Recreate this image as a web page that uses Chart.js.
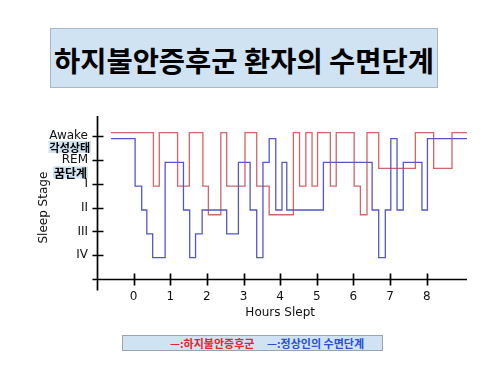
<!DOCTYPE html>
<html><head><meta charset="utf-8">
<script src="https://cdn.jsdelivr.net/npm/chart.js@4"></script>
<style>
html,body{margin:0;padding:0;background:#fff;}
#wrap{position:relative;width:500px;height:374px;overflow:hidden;}
canvas{position:absolute;left:0;top:0;}
#title{position:absolute;left:50px;top:28px;width:386px;height:58px;background:#d0e3f3;border:1px solid #aab6c2;font:bold 28.5px "Noto Sans CJK KR";text-align:center;line-height:62px;color:#000;white-space:nowrap;overflow:visible;}
#legend{position:absolute;left:122px;top:335px;width:259px;height:14px;background:#d0e3f3;border:1px solid #98a4ae;}
.lg{position:absolute;top:335px;font:bold 11px "Noto Sans CJK KR";line-height:16px;white-space:nowrap;}
</style></head><body>
<div id="wrap">
<canvas id="c" width="500" height="374"></canvas>
<div id="title">하지불안증후군 환자의 수면단계</div>
<div id="legend"></div>
<span class="lg" style="left:170px;color:#e2262b">—:하지불안증후군</span>
<span class="lg" style="left:267px;color:#2a4fd6">—:정상인의 수면단계</span>
</div>
<script>
// Normal sleeper (blue): hour at which each stage begins, and the stage value
const hoursNormal = [-0.62,0.04,0.22,0.36,0.52,0.86,1.36,1.53,1.69,1.87,2.54,2.86,3.18,3.36,3.53,3.70,3.88,4.05,4.18,5.18,6.51,6.69,6.87,7.02,7.19,7.36,7.87,8.02,9.10];
const stageNormal = [4.9,2.9,1.9,0.9,-0.1,3.9,1.9,-0.1,0.9,1.9,0.9,3.9,1.9,-0.1,3.9,4.9,1.9,3.9,1.9,3.9,1.9,-0.1,1.9,4.9,1.9,3.9,1.9,4.9,4.9];
// Restless legs syndrome patient (red)
const hoursRLS = [-0.62,0.54,0.70,1.20,1.52,1.89,2.04,2.38,2.54,3.04,3.36,3.70,4.36,4.53,4.70,4.87,5.02,5.37,5.53,6.02,6.19,6.37,6.69,7.69,8.19,8.69,9.10];
const stageRLS = [5.15,2.9,5.15,2.9,5.15,2.9,1.7,5.15,2.9,5.15,2.9,1.7,5.15,2.9,5.15,2.9,5.15,2.9,5.15,2.9,1.7,5.15,3.65,5.15,3.65,5.15,5.15];
const xTickValues = [0,1,2,3,4,5,6,7,8];
const yTickValues = [0,1,2,3,4,5];
const yTickLabels = ['IV','III','II','I','REM','Awake'];
const yNoteLabels = ['각성상태','꿈단계'];
const xTitle = 'Hours Slept';
const yTitle = 'Sleep Stage';

const axesPlugin = {
  id:'axes',
  afterDraw(chart){
    const {ctx, chartArea:a, scales:{x,y}} = chart;
    ctx.save();
    ctx.strokeStyle='#000'; ctx.lineWidth=1.7;
    const ax = Math.round(x.getPixelForValue(-1))+0.5;
    const ay = Math.round(y.getPixelForValue(-1))+0.5;
    ctx.beginPath();
    ctx.moveTo(ax, a.top); ctx.lineTo(ax, ay+11);
    ctx.moveTo(ax-5, ay); ctx.lineTo(a.right, ay);
    yTickValues.forEach(v=>{const py=Math.round(y.getPixelForValue(v))+0.5; ctx.moveTo(ax-5,py); ctx.lineTo(ax+6,py);});
    xTickValues.forEach(v=>{const px=Math.round(x.getPixelForValue(v))+0.5; ctx.moveTo(px,ay-6); ctx.lineTo(px,ay+6);});
    ctx.stroke();
    // axis titles
    ctx.fillStyle='#111';
    ctx.font='12px "DejaVu Sans"';
    ctx.textAlign='center'; ctx.textBaseline='middle';
    ctx.fillText(xTitle, (x.getPixelForValue(0)+x.getPixelForValue(8))/2, ay+33);
    ctx.save();
    ctx.translate(a.left-53, y.getPixelForValue(2));
    ctx.rotate(-Math.PI/2);
    ctx.fillText(yTitle, 0, 0);
    ctx.restore();
    // korean stage notes
    const notes = [{t:yNoteLabels[0], v:4.55, r:a.left-7, size:11},{t:yNoteLabels[1], v:3.48, r:a.left-10, size:12}];
    notes.forEach(n=>{
      ctx.font='bold '+n.size+'px "Noto Sans CJK KR"';
      const w = ctx.measureText(n.t).width;
      const cy = y.getPixelForValue(n.v);
      ctx.fillStyle='#cfe3f0';
      ctx.fillRect(n.r-w-1, cy-6, w+2, 12);
      ctx.fillStyle='#000';
      ctx.textAlign='right';
      ctx.fillText(n.t, n.r, cy+1);
    });
    ctx.restore();
  }
};

new Chart(document.getElementById('c'), {
  type:'line',
  data:{datasets:[
    {data: hoursNormal.map((h,i)=>({x:h,y:stageNormal[i]})), borderColor:'#5656cc', borderWidth:1.3, stepped:true, pointRadius:0, fill:false},
    {data: hoursRLS.map((h,i)=>({x:h,y:stageRLS[i]})), borderColor:'#d2646a', borderWidth:1.3, stepped:true, pointRadius:0, fill:false}
  ]},
  options:{
    responsive:false, animation:false,
    layout:{padding:{top:116,right:33,left:0,bottom:0}},
    plugins:{legend:{display:false}, tooltip:{enabled:false}},
    scales:{
      x:{type:'linear', min:-1, max:9.1,
         grid:{display:false, drawTicks:false}, border:{display:false},
         afterFit(s){s.height=95;},
         afterBuildTicks(s){s.ticks=xTickValues.map(v=>({value:v}));},
         ticks:{padding:11, autoSkip:false, maxRotation:0, color:'#111', font:{family:'DejaVu Sans', size:12}, callback:(v)=>String(v)}},
      y:{type:'linear', min:-1, max:5.85,
         grid:{display:false, drawTicks:false}, border:{display:false},
         afterFit(s){s.width=97;},
         afterBuildTicks(s){s.ticks=yTickValues.map(v=>({value:v}));},
         ticks:{padding:9, autoSkip:false, color:'#111', font:{family:'DejaVu Sans', size:12}, callback:(v,i)=>yTickLabels[i]}}
    }
  },
  plugins:[axesPlugin]
});
</script>
</body></html>
